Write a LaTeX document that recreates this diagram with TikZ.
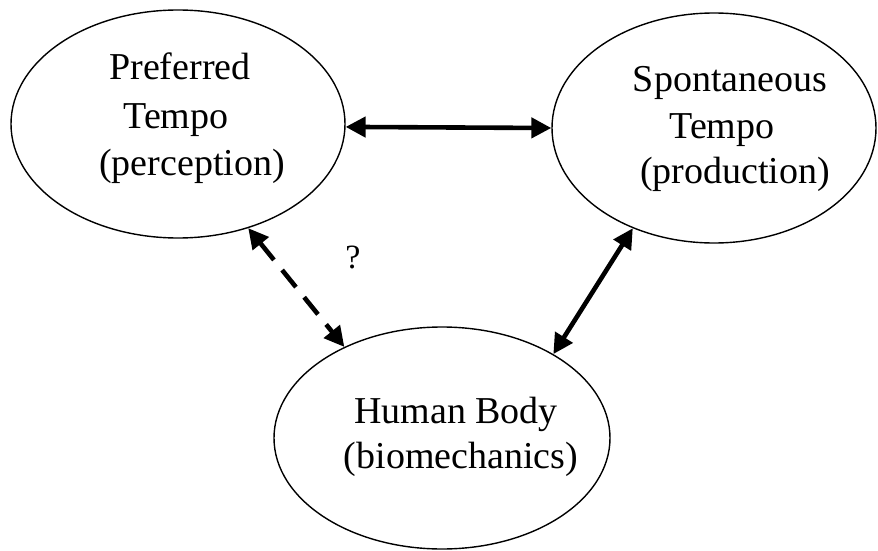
\documentclass[tikz,border=0pt]{standalone}
\usepackage{fontspec}
\setmainfont{Liberation Serif}
\usetikzlibrary{shapes.geometric,arrows.meta}
\begin{document}
\begin{tikzpicture}[x=1pt,y=-1pt,
  bubble/.style={draw,ellipse,line width=1.4pt,inner sep=0pt},
  txt/.style={anchor=base,inner sep=0pt,font=\fontsize{38}{46}\selectfont},
  link/.style={line width=4.6pt,{Triangle[length=20pt,width=20pt]}-{Triangle[length=20pt,width=20pt]}},
  maybe/.style={link,dash pattern=on 22pt off 13pt}]
\useasboundingbox (0,0) rectangle (878,551);
\node[bubble,minimum width=334pt,minimum height=228pt] (L) at (178,124) {};
\node[bubble,minimum width=324pt,minimum height=230pt] (R) at (714,128) {};
\node[bubble,minimum width=336pt,minimum height=222pt] (B) at (442,438) {};
\node[txt] (L1) at (180,80) {Preferred};
\node[txt] (L2) at (176,128) {Tempo};
\node[txt] (L3) at (192,175) {(perception)};
\node[txt] (R1) at (730,92) {Spontaneous};
\node[txt] (R2) at (722,138) {Tempo};
\node[txt] (R3) at (735,183) {(production)};
\node[txt] (B1) at (456,423) {Human Body};
\node[txt] (B2) at (461,468) {(biomechanics)};
\node[txt,font=\fontsize{34}{40}\selectfont] (Q) at (353,268) {?};
\draw[link] (L.-1) -- (R.180);
\draw[maybe] (L.-56) -- (B.137);
\draw[link] (B.37) -- (R.231);
\end{tikzpicture}
\end{document}
